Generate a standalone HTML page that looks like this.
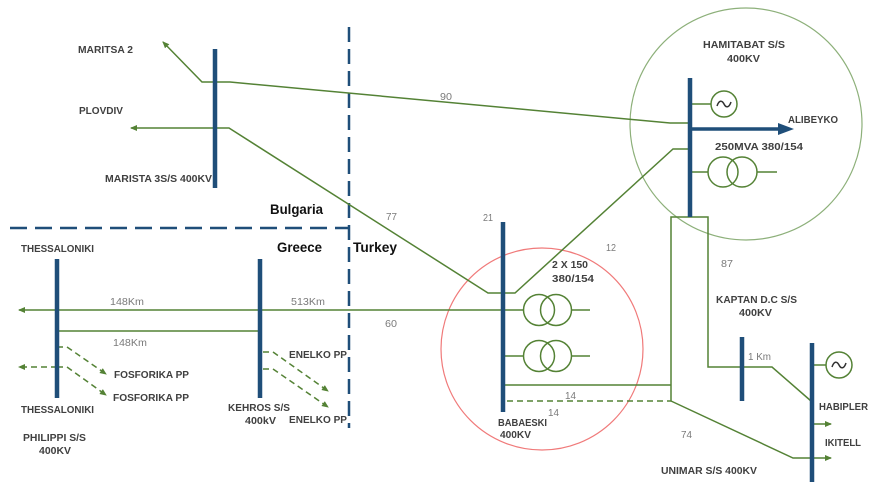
<!DOCTYPE html>
<html><head><meta charset="utf-8"><style>
html,body{margin:0;padding:0;background:#fff;}
svg{display:block;}
.t{font-family:"Liberation Sans",sans-serif;font-weight:bold;font-size:10.5px;fill:#404040;}
.n{font-family:"Liberation Sans",sans-serif;font-size:10.5px;fill:#7a7a7a;}
.c{font-family:"Liberation Sans",sans-serif;font-weight:bold;font-size:14px;fill:#111;}
</style></head><body>
<svg width="876" height="501" viewBox="0 0 876 501" xmlns="http://www.w3.org/2000/svg">
<defs>
<marker id="ah" markerWidth="8" markerHeight="8" refX="6" refY="3" orient="auto" markerUnits="userSpaceOnUse">
<path d="M0,0 L7,3 L0,6 z" fill="#548235"/>
</marker>
</defs>
<rect width="876" height="501" fill="#fff"/>

<!-- border dashed -->
<g stroke="#1f4e79" stroke-width="2.5" fill="none">
<line x1="10" y1="228" x2="349" y2="228" stroke-dasharray="17 8"/>
<line x1="349" y1="27" x2="349" y2="428" stroke-dasharray="15 7"/>
</g>

<!-- circles -->
<circle cx="746" cy="124" r="116" fill="none" stroke="#8db07a" stroke-width="1.2"/>
<circle cx="542" cy="349" r="101" fill="none" stroke="#f07a7a" stroke-width="1.2"/>

<!-- green lines -->
<g stroke="#548235" stroke-width="1.5" fill="none">
<polyline points="689,123 670,123 230,82 202,82 163,42" marker-end="url(#ah)"/>
<polyline points="689,149 673,149 515,293 488,293 229,128 131,128" marker-end="url(#ah)"/>
<polyline points="524,310 19,310" marker-end="url(#ah)"/>
<line x1="57" y1="331" x2="260" y2="331"/>
<line x1="503" y1="356" x2="524" y2="356"/>
<line x1="571" y1="310" x2="590" y2="310"/>
<line x1="571" y1="356" x2="590" y2="356"/>
<circle cx="539" cy="310" r="15.5"/>
<circle cx="556" cy="310" r="15.5"/>
<circle cx="539" cy="356" r="15.5"/>
<circle cx="556" cy="356" r="15.5"/>
<!-- Hamitabat box -->
<polyline points="671,401 671,217 708,217 708,367 772,367 811,401"/>
<line x1="503" y1="385" x2="671" y2="385"/>
<polyline points="671,401 793,458 831,458" marker-end="url(#ah)"/>
<line x1="812" y1="424" x2="831" y2="424" marker-end="url(#ah)"/>
<!-- Hamitabat generator & transformer -->
<line x1="690" y1="104" x2="711" y2="104"/>
<circle cx="724" cy="104" r="13"/>
<line x1="690" y1="172" x2="708" y2="172"/>
<circle cx="723" cy="172" r="15"/>
<circle cx="742" cy="172" r="15"/>
<line x1="757" y1="172" x2="777" y2="172"/>
<!-- Habipler generator -->
<line x1="812" y1="365" x2="826" y2="365"/>
<circle cx="839" cy="365" r="13"/>
</g>
<g stroke="#333" stroke-width="1.5" fill="none">
<path d="M717,106 C719,100 722,100 724,104 C726,108 729,108 731,102"/>
<path d="M832,367 C834,361 837,361 839,365 C841,369 844,369 846,363"/>
</g>

<!-- dashed green -->
<g stroke="#548235" stroke-width="1.5" fill="none" stroke-dasharray="6 4">
<line x1="507" y1="401" x2="671" y2="401"/>
<polyline points="57,347 67,347 106,374" marker-end="url(#ah)"/>
<polyline points="57,367 67,367 106,395" marker-end="url(#ah)"/>
<line x1="57" y1="367" x2="19" y2="367" marker-end="url(#ah)"/>
<polyline points="263,352 273,352 328,391" marker-end="url(#ah)"/>
<polyline points="263,369 273,369 328,407" marker-end="url(#ah)"/>
</g>

<!-- buses -->
<g stroke="#1f4e79" stroke-width="4.5" fill="none">
<line x1="215" y1="49" x2="215" y2="188"/>
<line x1="57" y1="259" x2="57" y2="398"/>
<line x1="260" y1="259" x2="260" y2="398"/>
<line x1="503" y1="222" x2="503" y2="412"/>
<line x1="690" y1="78" x2="690" y2="217"/>
<line x1="742" y1="337" x2="742" y2="401"/>
<line x1="812" y1="343" x2="812" y2="482"/>
<line x1="692" y1="129" x2="780" y2="129" stroke-width="3.5"/>
</g>
<path d="M778,123 L794,129 L778,135 z" fill="#1f4e79"/>

<!-- labels -->
<text class="t" x="78" y="53" textLength="55" lengthAdjust="spacingAndGlyphs">MARITSA  2</text>
<text class="t" x="79" y="114" textLength="44" lengthAdjust="spacingAndGlyphs">PLOVDIV</text>
<text class="t" x="105" y="182" textLength="107" lengthAdjust="spacingAndGlyphs">MARISTA  3S/S 400KV</text>
<text class="c" x="270" y="214" textLength="53" lengthAdjust="spacingAndGlyphs">Bulgaria</text>
<text class="c" x="277" y="252" textLength="45" lengthAdjust="spacingAndGlyphs">Greece</text>
<text class="c" x="353" y="252" textLength="44" lengthAdjust="spacingAndGlyphs">Turkey</text>
<text class="n" x="386" y="220" textLength="11" lengthAdjust="spacingAndGlyphs">77</text>
<text class="n" x="440" y="100" textLength="12" lengthAdjust="spacingAndGlyphs">90</text>
<text class="t" x="703" y="48" textLength="82" lengthAdjust="spacingAndGlyphs">HAMITABAT  S/S</text>
<text class="t" x="727" y="62" textLength="33" lengthAdjust="spacingAndGlyphs">400KV</text>
<text class="t" x="788" y="123" textLength="50" lengthAdjust="spacingAndGlyphs">ALIBEYKO</text>
<text class="t" x="715" y="150" textLength="88" lengthAdjust="spacingAndGlyphs">250MVA  380/154</text>
<text class="n" x="483" y="221" textLength="10" lengthAdjust="spacingAndGlyphs">21</text>
<text class="n" x="606" y="251" textLength="10" lengthAdjust="spacingAndGlyphs">12</text>
<text class="t" x="552" y="268" textLength="36" lengthAdjust="spacingAndGlyphs">2 X 150</text>
<text class="t" x="552" y="282" textLength="42" lengthAdjust="spacingAndGlyphs">380/154</text>
<text class="n" x="721" y="267" textLength="12" lengthAdjust="spacingAndGlyphs">87</text>
<text class="t" x="716" y="303" textLength="81" lengthAdjust="spacingAndGlyphs">KAPTAN  D.C S/S</text>
<text class="t" x="739" y="316" textLength="33" lengthAdjust="spacingAndGlyphs">400KV</text>
<text class="n" x="748" y="360" textLength="23" lengthAdjust="spacingAndGlyphs">1 Km</text>
<text class="t" x="819" y="410" textLength="49" lengthAdjust="spacingAndGlyphs">HABIPLER</text>
<text class="t" x="825" y="446" textLength="36" lengthAdjust="spacingAndGlyphs">IKITELL</text>
<text class="n" x="681" y="438" textLength="11" lengthAdjust="spacingAndGlyphs">74</text>
<text class="t" x="661" y="474" textLength="96" lengthAdjust="spacingAndGlyphs">UNIMAR  S/S 400KV</text>
<text class="n" x="565" y="399" textLength="11" lengthAdjust="spacingAndGlyphs">14</text>
<text class="n" x="548" y="416" textLength="11" lengthAdjust="spacingAndGlyphs">14</text>
<text class="t" x="498" y="426" textLength="49" lengthAdjust="spacingAndGlyphs">BABAESKI</text>
<text class="t" x="500" y="438" textLength="31" lengthAdjust="spacingAndGlyphs">400KV</text>
<text class="t" x="21" y="252" textLength="73" lengthAdjust="spacingAndGlyphs">THESSALONIKI</text>
<text class="n" x="110" y="305" textLength="34" lengthAdjust="spacingAndGlyphs">148Km</text>
<text class="n" x="291" y="305" textLength="34" lengthAdjust="spacingAndGlyphs">513Km</text>
<text class="n" x="385" y="327" textLength="12" lengthAdjust="spacingAndGlyphs">60</text>
<text class="n" x="113" y="346" textLength="34" lengthAdjust="spacingAndGlyphs">148Km</text>
<text class="t" x="289" y="358" textLength="58" lengthAdjust="spacingAndGlyphs">ENELKO PP</text>
<text class="t" x="114" y="378" textLength="75" lengthAdjust="spacingAndGlyphs">FOSFORIKA PP</text>
<text class="t" x="113" y="401" textLength="76" lengthAdjust="spacingAndGlyphs">FOSFORIKA PP</text>
<text class="t" x="21" y="413" textLength="73" lengthAdjust="spacingAndGlyphs">THESSALONIKI</text>
<text class="t" x="228" y="411" textLength="62" lengthAdjust="spacingAndGlyphs">KEHROS S/S</text>
<text class="t" x="245" y="424" textLength="31" lengthAdjust="spacingAndGlyphs">400kV</text>
<text class="t" x="289" y="423" textLength="58" lengthAdjust="spacingAndGlyphs">ENELKO PP</text>
<text class="t" x="23" y="441" textLength="63" lengthAdjust="spacingAndGlyphs">PHILIPPI  S/S</text>
<text class="t" x="39" y="454" textLength="32" lengthAdjust="spacingAndGlyphs">400KV</text>
</svg>
</body></html>
